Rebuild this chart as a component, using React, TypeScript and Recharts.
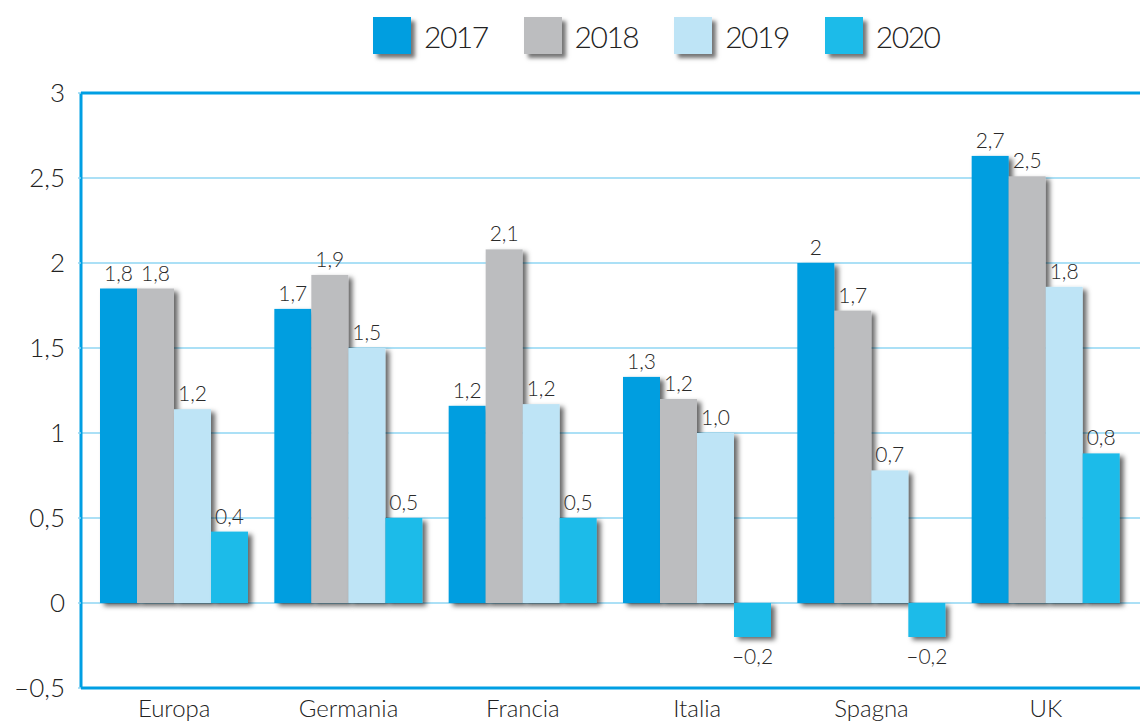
import React from 'react';
import { BarChart, Bar, XAxis, YAxis, CartesianGrid, ReferenceLine, LabelList } from 'recharts';

const categories = ['Europa', 'Germania', 'Francia', 'Italia', 'Spagna', 'UK'];
const years = ['2017', '2018', '2019', '2020'];

// bar heights
const v2017 = [1.85, 1.73, 1.16, 1.33, 2.0, 2.63];
const v2018 = [1.85, 1.93, 2.08, 1.2, 1.72, 2.51];
const v2019 = [1.14, 1.5, 1.17, 1.0, 0.78, 1.86];
const v2020 = [0.42, 0.5, 0.5, -0.2, -0.2, 0.88];

// printed labels (rounded values as shown)
const l2017 = ['1,8', '1,7', '1,2', '1,3', '2', '2,7'];
const l2018 = ['1,8', '1,9', '2,1', '1,2', '1,7', '2,5'];
const l2019 = ['1,2', '1,5', '1,2', '1,0', '0,7', '1,8'];
const l2020 = ['0,4', '0,5', '0,5', '–0,2', '–0,2', '0,8'];

const yTicks = [-0.5, 0, 0.5, 1, 1.5, 2, 2.5, 3];

const colors = ['#009ee0', '#bcbdbf', '#bee4f6', '#1cbbe9'];
const values = [v2017, v2018, v2019, v2020];
const labels = [l2017, l2018, l2019, l2020];

const FONT = "Lato, 'Noto Sans', sans-serif";
const AXIS_BLUE = '#009fe3';

const data = categories.map((name, i) => ({
  name,
  y2017: v2017[i],
  y2018: v2018[i],
  y2019: v2019[i],
  y2020: v2020[i],
}));

function ShadowBar(props: any) {
  const { x, y, width, height, fill } = props;
  if (width == null || height == null) return null;
  const top = height < 0 ? y + height : y;
  return (
    <rect x={x} y={top} width={width} height={Math.abs(height)} fill={fill} filter="url(#barShadow)" />
  );
}

function makeLabel(texts: string[], vals: number[]) {
  return (props: any) => {
    const vb = props.viewBox && props.viewBox.width != null ? props.viewBox : props;
    const { x, y, width, height } = vb;
    const index = props.index;
    if (x == null || index == null) return null;
    const top = height < 0 ? y + height : y;
    const bottom = top + Math.abs(height);
    const neg = vals[index] < 0;
    return (
      <text
        x={x + width / 2}
        y={neg ? bottom + 27 : top - 8}
        textAnchor="middle"
        fontSize={21}
        fill="#2a2a2a"
        fontFamily={FONT}
        fontWeight={300}
      >
        {texts[index]}
      </text>
    );
  };
}

const fmtTick = (v: number) => (v < 0 ? '–' : '') + String(Math.abs(v)).replace('.', ',');

function LegendRow() {
  return (
    <div
      style={{
        position: 'absolute',
        top: 17,
        left: 373,
        display: 'flex',
        alignItems: 'center',
        fontFamily: FONT,
        fontWeight: 300,
        fontSize: 30,
        letterSpacing: -1.5,
        color: '#222',
      }}
    >
      {years.map((yr, i) => (
        <div key={yr} style={{ display: 'flex', alignItems: 'center', marginRight: i < 3 ? 36 : 0 }}>
          <div
            style={{
              width: 38,
              height: 37,
              background: colors[i],
              boxShadow: '4px 4px 4px rgba(0,0,0,0.55)',
              marginRight: 13,
            }}
          />
          <span>{yr}</span>
        </div>
      ))}
    </div>
  );
}

export default function App() {
  return (
    <div style={{ position: 'absolute', left: 0, top: 0, width: 1140, height: 722, background: '#fff' }}>
      <LegendRow />
      <BarChart
        width={1140}
        height={722}
        data={data}
        margin={{ top: 93, right: 0, left: 0, bottom: 0 }}
        barGap={0}
        barSize={37}
      >
        <defs>
          <filter id="barShadow" x="-20%" y="-20%" width="150%" height="150%">
            <feDropShadow dx="4" dy="3" stdDeviation="2.4" floodColor="#000" floodOpacity="0.6" />
          </filter>
        </defs>
        <CartesianGrid vertical={false} stroke="#8fd6f3" strokeWidth={1.5} />
        <XAxis
          dataKey="name"
          height={34}
          padding={{ left: 6, right: 7 }}
          axisLine={{ stroke: AXIS_BLUE, strokeWidth: 3 }}
          tickLine={false}
          tickMargin={6}
          tick={{ fontSize: 24, fill: '#222', fontFamily: FONT, fontWeight: 300 }}
        />
        <YAxis
          width={81}
          domain={[-0.5, 3]}
          ticks={yTicks}
          interval={0}
          tickFormatter={fmtTick}
          axisLine={{ stroke: AXIS_BLUE, strokeWidth: 3 }}
          tickLine={{ stroke: '#8fd6f3', strokeWidth: 1.5 }}
          tickSize={3}
          tickMargin={13}
          tick={{ fontSize: 26, fill: '#222', fontFamily: FONT, fontWeight: 300 }}
        />
        <ReferenceLine y={3} stroke={AXIS_BLUE} strokeWidth={3} />
        {years.map((yr, i) => (
          <Bar
            key={yr}
            dataKey={'y' + yr}
            name={yr}
            fill={colors[i]}
            shape={ShadowBar}
            isAnimationActive={false}
          >
            <LabelList dataKey={'y' + yr} content={makeLabel(labels[i], values[i])} />
          </Bar>
        ))}
      </BarChart>
    </div>
  );
}
